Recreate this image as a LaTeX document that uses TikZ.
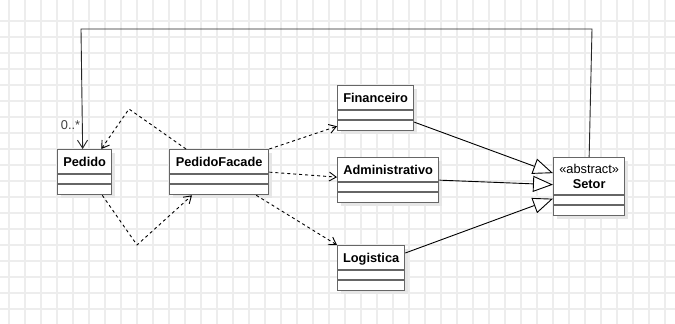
\documentclass[tikz,border=0pt]{standalone}
\usepackage{fontspec}
\setmainfont{Liberation Sans}
\usepackage{tikz}
\usetikzlibrary{arrows.meta,positioning,shadows}
\definecolor{umlborder}{HTML}{666666}
\definecolor{umlgrid}{HTML}{EDEDED}
\definecolor{umlshadow}{HTML}{E6E6E6}
\tikzset{
  gridline/.style={draw=umlgrid, line width=1.5pt},
  classbox/.style={draw=umlborder, fill=white, line width=1.3pt, anchor=north west, inner sep=0pt, drop shadow={shadow xshift=3pt, shadow yshift=-3pt, fill=umlshadow, opacity=1}},
  classname/.style={inner sep=0pt, align=center, text depth=0pt, font=\fontsize{12.8}{14.7}\selectfont\bfseries},
  classline/.style={draw=umlborder, line width=1.3pt},
  inherit/.style={-{Triangle[length=20pt, width=16pt, fill=white]}, line width=0.9pt, draw=black},
  assoc/.style={-{Straight Barb[length=8pt, width=10pt]}, line width=0.9pt, draw=black!85},
  depend/.style={-{Straight Barb[length=7pt, width=9pt]}, dash pattern=on 3pt off 3pt, line width=0.9pt, draw=black},
  multlabel/.style={font=\fontsize{12.8}{14}\selectfont, text=black!75, inner sep=0pt}
}

\begin{document}
\begin{tikzpicture}[x=1pt, y=-1pt]
  \useasboundingbox (0,0) rectangle (675,324);
  \fill[white] (0,0) rectangle (675,324);
  % background grid
  \foreach \gx in {9,25,...,665} \draw[gridline] (\gx,0) -- (\gx,324);
  \foreach \gy in {21,37,...,309} \draw[gridline] (0,\gy) -- (675,\gy);

  % classes: name / left / top / width / header height / title
  \foreach \id/\x/\y/\w/\hd/\txt in {
      pedido/57/149/54/25/Pedido,
      facade/169/149/99/25/PedidoFacade,
      financeiro/337/85/76/25/Financeiro,
      admin/337/157/101/25/Administrativo,
      logistica/337/245/67/25/Logistica,
      setor/553/157/71/38/{{\mdseries «abstract»}\\Setor}} {
    \node[classbox, minimum width=\w, minimum height=\hd+20] (\id) at (\x,\y) {};
    \node[classname, minimum height=\hd, below=0pt of \id.north] (\id-name) {\txt};
    \draw[classline] ([yshift=-\hd]\id.north west) -- ([yshift=-\hd]\id.north east);
    \draw[classline] ([yshift={-(\hd+10)}]\id.north west) -- ([yshift={-(\hd+10)}]\id.north east);
  }

  % generalisation towards Setor
  \draw[inherit] ([yshift=-14pt]financeiro.east) -- ([yshift=13.5pt]setor.west);
  \draw[inherit] (admin.east) -- ([yshift=2pt]setor.west);
  \draw[inherit] ([yshift=-8pt]logistica.north east) -- ([yshift=-12pt]setor.west);

  % association Setor -> Pedido over the top
  \coordinate (loop-r) at (592,29);
  \coordinate (loop-l) at (81,29);
  \draw[assoc] (setor.north) -- (loop-r) -- (loop-l) -- ([xshift=-2pt]pedido.north);
  \node[multlabel] (mult) at (70.5,125) {0..*};

  % dependencies
  \coordinate (dep-up) at (129,109);
  \coordinate (dep-down) at (137,245);
  \draw[depend] ([xshift=17pt]facade.north west) -- (dep-up) -- ([xshift=-11pt]pedido.north east);
  \draw[depend] ([xshift=-10pt]pedido.south east) -- (dep-down) -- ([xshift=23pt]facade.south west);
  \draw[depend] (facade.north east) -- ([yshift=5pt]financeiro.south west);
  \draw[depend] (facade.east) -- ([yshift=3pt]admin.west);
  \draw[depend] ([xshift=-13pt]facade.south east) -- (logistica.north west);
\end{tikzpicture}
\end{document}
